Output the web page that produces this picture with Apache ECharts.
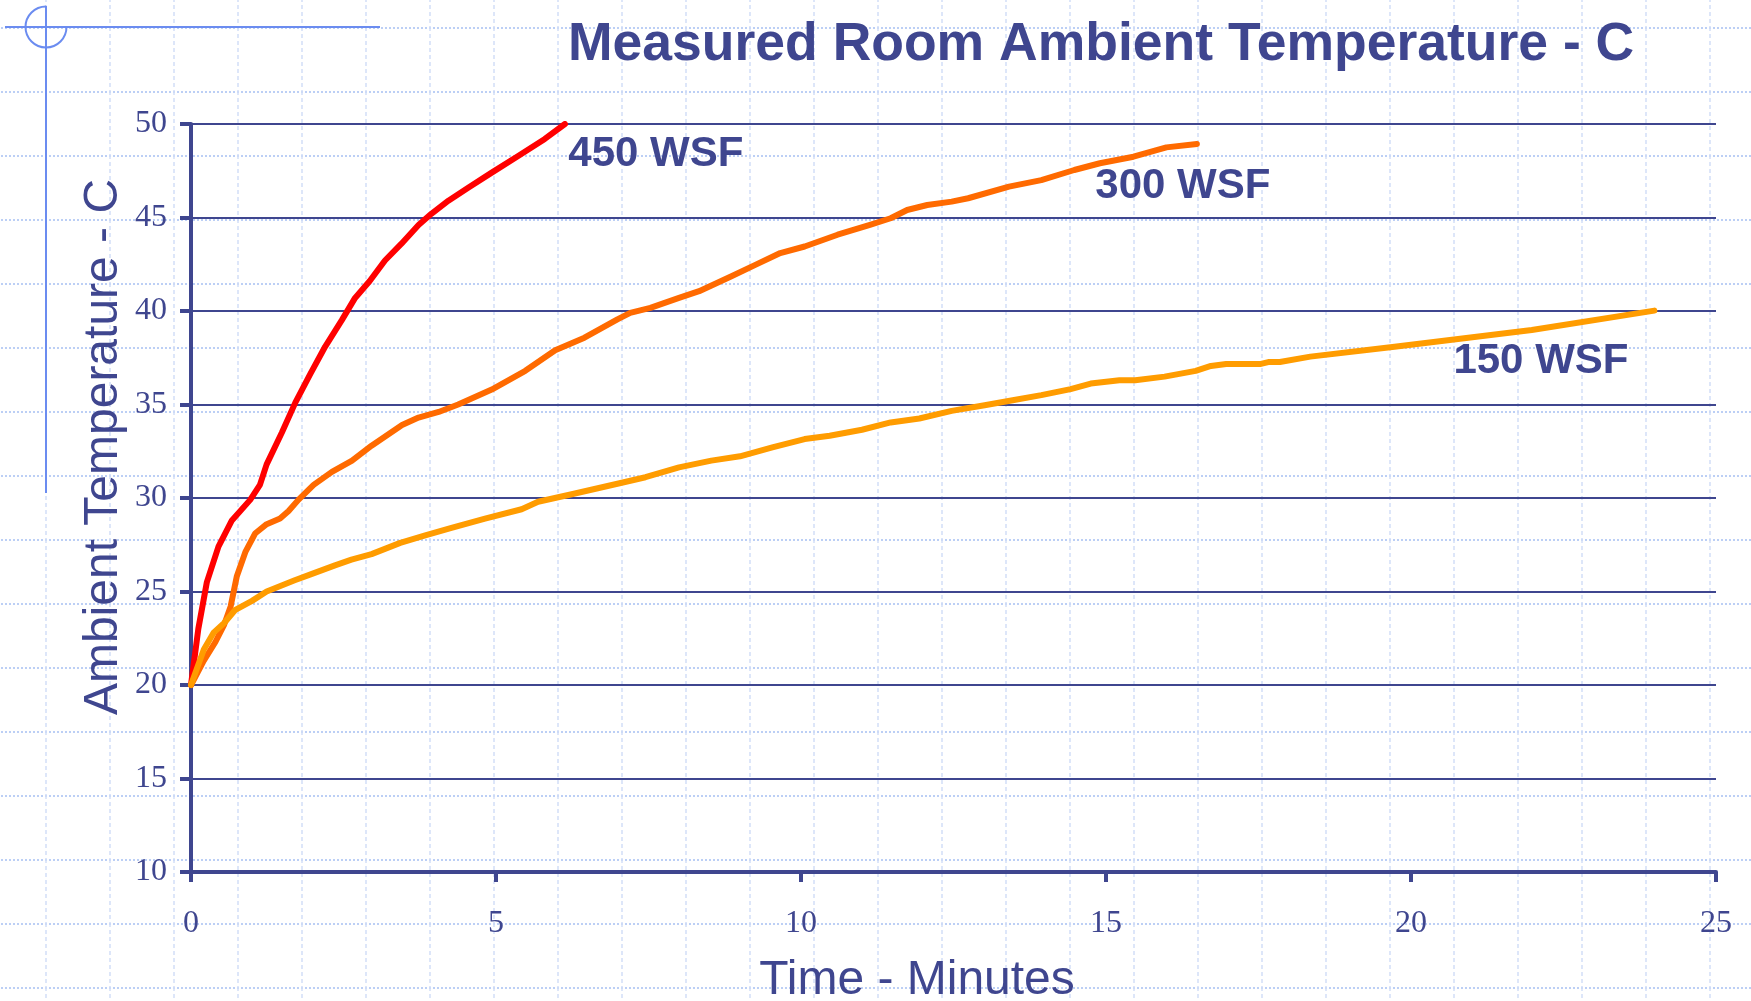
<!DOCTYPE html>
<html>
<head>
<meta charset="utf-8">
<script src="https://cdn.jsdelivr.net/npm/echarts@6/dist/echarts.min.js"></script>
<style>
html, body { margin:0; padding:0; width:1751px; height:1001px; overflow:hidden; }
body {
  background-color:#ffffff;
  background-image:url("data:image/svg+xml,%3Csvg xmlns='http://www.w3.org/2000/svg' width='64' height='64'%3E%3Cline x1='0' y1='1' x2='64' y2='1' stroke='%23bccff5' stroke-width='2' stroke-dasharray='2 2'/%3E%3Cline x1='1' y1='0' x2='1' y2='64' stroke='%23d2def8' stroke-width='1.5' stroke-dasharray='4 3'/%3E%3C/svg%3E");
  background-position:45px 27px;
}
#chart { width:1751px; height:1001px; }
</style>
</head>
<body>
<div id="chart"></div>
<script>
// ---- data ----
const titleText = 'Measured Room Ambient Temperature - C';
const xName = 'Time - Minutes';
const yName = 'Ambient Temperature - C';
const seriesNames = ['450 WSF', '300 WSF', '150 WSF'];

const time450 = [0,0.12,0.26,0.45,0.67,0.97,1.13,1.24,1.49,1.71,1.95,2.20,2.47,2.69,2.93,3.18,3.45,3.73,3.94,4.22,4.55,4.93,5.37,5.80,6.13];
const temp450 = [20,23.0,25.5,27.4,28.8,29.9,30.7,31.8,33.5,35.1,36.6,38.1,39.5,40.7,41.6,42.7,43.6,44.6,45.2,45.9,46.6,47.4,48.3,49.2,50];

const time300 = [0,0.21,0.40,0.54,0.65,0.75,0.89,1.05,1.24,1.46,1.60,1.76,2.01,2.31,2.64,2.96,3.46,3.73,4.06,4.38,4.93,5.48,5.97,6.45,6.99,7.20,7.53,8.00,8.33,8.86,9.26,9.66,10.06,10.60,11.13,11.47,11.74,12.07,12.47,12.74,13.41,13.94,14.48,14.90,15.45,15.99,16.49];
const temp300 = [20,21.3,22.3,23.2,24.2,25.8,27.1,28.1,28.6,28.9,29.3,29.9,30.7,31.4,32.0,32.8,33.9,34.3,34.6,35.0,35.8,36.8,37.9,38.57,39.55,39.9,40.17,40.7,41.06,41.86,42.48,43.1,43.45,44.08,44.61,44.96,45.4,45.67,45.85,46.03,46.65,47.0,47.54,47.9,48.25,48.75,48.93];

const time150 = [0,0.21,0.37,0.54,0.72,1.00,1.24,1.70,1.95,2.36,2.63,2.96,3.43,3.84,4.27,4.82,5.42,5.69,6.24,6.99,7.45,8.00,8.53,9.00,9.53,10.06,10.47,11.00,11.47,11.94,12.47,13.01,13.47,13.94,14.42,14.75,15.22,15.48,15.96,16.47,16.72,16.97,17.54,17.66,17.85,18.35,19.73,21.98,23.99];
const temp150 = [20,21.9,22.8,23.3,24.0,24.5,25.0,25.6,25.9,26.4,26.7,27.0,27.6,28.0,28.4,28.9,29.4,29.8,30.2,30.76,31.11,31.64,32.0,32.23,32.71,33.15,33.33,33.65,34.04,34.25,34.66,34.96,35.23,35.5,35.82,36.12,36.3,36.3,36.49,36.8,37.06,37.17,37.17,37.27,37.27,37.56,38.09,38.98,40.02];

// label anchor positions (data coordinates)
const labelPosX = [7.62, 16.26, 22.13];
const labelPosY = [48.39, 46.64, 37.31];

// ---- styles ----
const ink = '#3f468f';
const deco = '#6b8cf0';
const colors = ['#ff0000', '#ff6a00', '#ff9c00'];
const sans = "'Liberation Sans', Arial, sans-serif";
const serif = "'Liberation Serif', 'Times New Roman', serif";

const pairs = (xs, ys) => xs.map((x, i) => [x, ys[i]]);
const dataSets = [pairs(time450, temp450), pairs(time300, temp300), pairs(time150, temp150)];

const chart = echarts.init(document.getElementById('chart'), null, { renderer: 'canvas' });

const series = seriesNames.map((name, i) => ({
  name: name,
  type: 'line',
  data: dataSets[i],
  showSymbol: false,
  symbol: 'none',
  lineStyle: { color: colors[i], width: 6, join: 'round', cap: 'round' },
  itemStyle: { color: colors[i] },
  z: 3 + i,
  markPoint: {
    symbol: 'circle',
    symbolSize: 1,
    itemStyle: { color: 'rgba(0,0,0,0)' },
    label: {
      show: true, position: 'inside', formatter: name,
      color: ink, fontSize: 42, fontWeight: 'bold', fontFamily: sans
    },
    data: [{ name: name, coord: [labelPosX[i], labelPosY[i]] }]
  }
}));

chart.setOption({
  animation: false,
  backgroundColor: 'transparent',
  grid: { left: 191, right: 35, top: 124, bottom: 129, containLabel: false },
  xAxis: {
    type: 'value', min: 0, max: 25, interval: 5,
    axisLine: { show: true, onZero: false, lineStyle: { color: ink, width: 4 } },
    axisTick: { show: true, inside: false, length: 10, lineStyle: { color: ink, width: 4 } },
    axisLabel: { color: ink, fontSize: 32, fontFamily: serif, margin: 36 },
    splitLine: { show: false }
  },
  yAxis: {
    type: 'value', min: 10, max: 50, interval: 5,
    axisLine: { show: true, lineStyle: { color: ink, width: 4 } },
    axisTick: { show: true, inside: false, length: 11, lineStyle: { color: ink, width: 4 } },
    axisLabel: { color: ink, fontSize: 32, fontFamily: serif, margin: 24 },
    splitLine: { show: true, lineStyle: { color: ink, width: 2 } }
  },
  title: {
    text: titleText,
    left: 568, top: 18, padding: 0,
    textStyle: { color: ink, fontSize: 53.5, fontWeight: 'bold', fontFamily: sans }
  },
  graphic: [
    { type: 'line', shape: { x1: 5, y1: 27, x2: 380, y2: 27 }, style: { stroke: deco, lineWidth: 2 }, z: 1 },
    { type: 'line', shape: { x1: 46, y1: 6, x2: 46, y2: 493 }, style: { stroke: deco, lineWidth: 2 }, z: 1 },
    { type: 'arc', shape: { cx: 46, cy: 27, r: 20.5, startAngle: 0, endAngle: Math.PI * 1.5, clockwise: true }, style: { stroke: deco, lineWidth: 2, fill: null }, z: 1 },
    { type: 'text', x: 104, y: 447, rotation: Math.PI / 2, z: 10,
      style: { text: yName, fill: ink, font: '48px ' + sans, textAlign: 'center', textVerticalAlign: 'middle', align: 'center', verticalAlign: 'middle' } },
    { type: 'text', x: 917, y: 981, z: 10,
      style: { text: xName, fill: ink, font: '48px ' + sans, textAlign: 'center', textVerticalAlign: 'middle', align: 'center', verticalAlign: 'middle' } }
  ],
  series: series
});
</script>
</body>
</html>
